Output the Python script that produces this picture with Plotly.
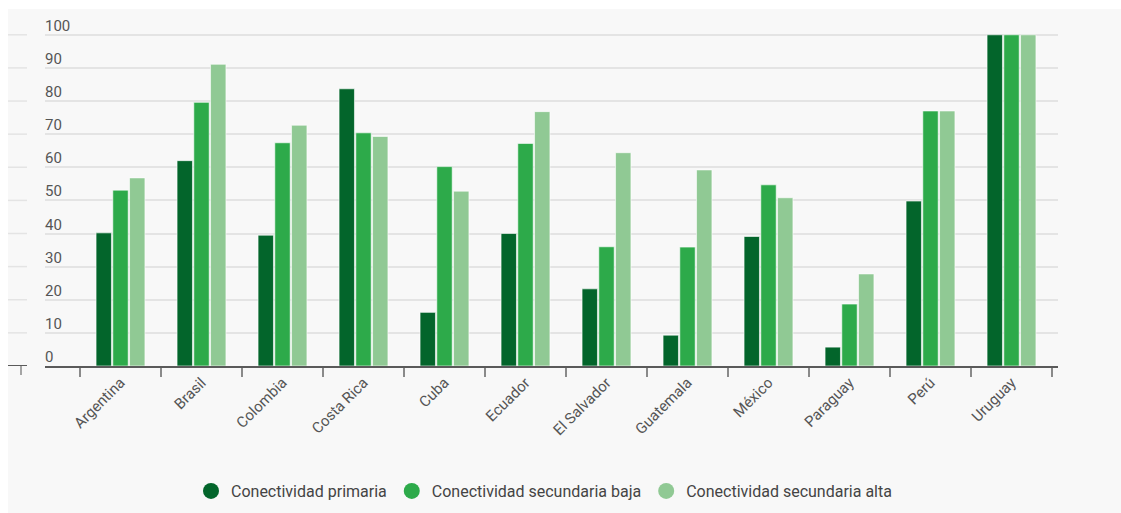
import plotly.graph_objects as go

# Conectividad por país (%)
paises = ["Argentina", "Brasil", "Colombia", "Costa Rica", "Cuba", "Ecuador",
          "El Salvador", "Guatemala", "México", "Paraguay", "Perú", "Uruguay"]
primaria = [40.2, 62.0, 39.5, 83.7, 16.2, 40.0, 23.3, 9.3, 39.1, 5.7, 49.8, 100]
secundaria_baja = [53.1, 79.6, 67.4, 70.4, 60.2, 67.2, 36.0, 35.9, 54.7, 18.7, 77.0, 100]
secundaria_alta = [56.8, 91.1, 72.7, 69.3, 52.8, 76.8, 64.4, 59.2, 50.8, 27.8, 77.0, 100]

series_nombres = ["Conectividad primaria", "Conectividad secundaria baja",
                  "Conectividad secundaria alta"]
series_colores = ["#03652b", "#2daa4a", "#90c994"]
series_valores = [primaria, secundaria_baja, secundaria_alta]

y_ticks = [0, 10, 20, 30, 40, 50, 60, 70, 80, 90, 100]
y_tick_labels = [str(v) for v in y_ticks]

W, H = 1121, 513
M_L, M_R, M_T, M_B = 45, 63, 18, 147
plot_w = W - M_L - M_R
plot_h = H - M_T - M_B
px_per_unit = 3.312
y_top = plot_h / px_per_unit

def px_to_xpaper(px):
    return (px - M_L) / plot_w

def px_to_ypaper(py):
    return (H - M_B - py) / plot_h

fig = go.Figure()

for nombre, color, valores in zip(series_nombres, series_colores, series_valores):
    fig.add_trace(go.Bar(
        x=paises, y=valores, name=nombre, showlegend=False,
        marker=dict(color=color, line=dict(color="rgba(255,255,255,0.6)", width=1)),
        hoverinfo="x+y",
    ))
    # circular legend entries
    fig.add_trace(go.Scatter(
        x=[None], y=[None], mode="markers", name=nombre,
        marker=dict(color=color, size=16, symbol="circle"),
    ))

shapes = [
    # light panel behind the chart
    dict(type="rect", xref="paper", yref="paper", layer="below",
         x0=px_to_xpaper(8), x1=px_to_xpaper(W + 5),
         y0=px_to_ypaper(H + 5), y1=px_to_ypaper(9),
         fillcolor="#f8f8f8", line=dict(width=0)),
    # short axis stub at the far left
    dict(type="line", xref="paper", yref="y",
         x0=px_to_xpaper(8), x1=px_to_xpaper(27), y0=0, y1=0,
         line=dict(color="#5a5a5a", width=2)),
    dict(type="line", xref="paper", yref="paper",
         x0=px_to_xpaper(21), x1=px_to_xpaper(21),
         y0=0, y1=px_to_ypaper(375),
         line=dict(color="#8a8a8a", width=1.5)),
]
for v in y_ticks[1:]:
    shapes.append(dict(type="line", xref="paper", yref="y", layer="below",
                       x0=px_to_xpaper(8), x1=px_to_xpaper(27), y0=v, y1=v,
                       line=dict(color="#e4e4e4", width=1.5)))

annotations = [
    dict(xref="paper", yref="y", x=0, y=v, xanchor="left", yanchor="bottom",
         text=t, showarrow=False, yshift=-2, xshift=-2,
         font=dict(family="Roboto, sans-serif", size=15, color="#555555"))
    for v, t in zip(y_ticks, y_tick_labels)
]

fig.update_layout(
    width=W, height=H,
    margin=dict(l=M_L, r=M_R, t=M_T, b=M_B, pad=0, autoexpand=False),
    paper_bgcolor="#ffffff",
    plot_bgcolor="rgba(0,0,0,0)",
    barmode="group", bargap=0.38, bargroupgap=0.08,
    font=dict(family="Roboto, sans-serif", size=14, color="#555555"),
    shapes=shapes, annotations=annotations,
    legend=dict(orientation="h", x=px_to_xpaper(544), xanchor="center",
                yref="container", y=(H - 491) / H, yanchor="middle",
                font=dict(family="Roboto, sans-serif", size=16, color="#444444"),
                bgcolor="rgba(0,0,0,0)"),
    xaxis=dict(
        range=[(M_L - 80) / 81 - 0.5, (W - M_R - 80) / 81 - 0.5],
        tickangle=-45, tickson="boundaries", ticks="outside", ticklen=9,
        tickwidth=1.5, tickcolor="#8a8a8a",
        showline=True, linecolor="#5a5a5a", linewidth=2,
        showgrid=False, fixedrange=True, automargin=False,
        tickfont=dict(family="Roboto, sans-serif", size=15, color="#555555"),
    ),
    yaxis=dict(
        range=[0, y_top], tickvals=y_ticks, showticklabels=False,
        showgrid=True, gridcolor="#e4e4e4", gridwidth=1.5,
        zeroline=False, showline=False, fixedrange=True, automargin=False,
    ),
)

fig.write_html("out.html")
